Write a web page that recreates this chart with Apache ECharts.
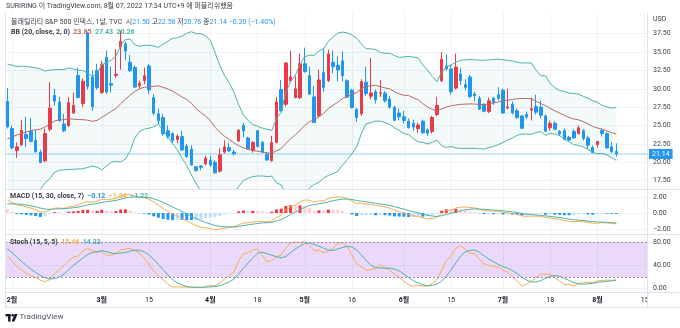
<!DOCTYPE html>
<html lang="ko">
<head>
<meta charset="utf-8">
<title>VIX 1D</title>
<script src="https://cdn.jsdelivr.net/npm/echarts@6/dist/echarts.min.js"></script>
<style>
html,body{margin:0;padding:0;background:#fff;}
#chart{width:680px;height:328px;}
</style>
</head>
<body>
<div id="chart"></div>
<script>
// ---------- sessions ----------
const holidays = ['2022-02-21', '2022-04-15', '2022-05-30', '2022-06-20', '2022-07-04'];
const firstSession = '2022-01-31';
const lastAxisDay = '2022-08-15';

// ---------- daily OHLC, 2022-01-31 .. 2022-08-05 ----------
const open = [
  28.3, 24.6, 21.6, 22.4, 23.8, 24.2, 23.0, 21.4, 20.2, 24.5,
  29.1, 28.2, 25.2, 25.0, 26.7, 31.8, 28.0, 37.5, 31.6, 32.5,
  29.5, 34.3, 30.7, 31.8, 35.7, 36.1, 33.6, 32.9, 30.4, 31.1,
  33.1, 28.8, 26.6, 26.1, 24.3, 23.9, 23.1, 23.5, 22.2, 21.8,
  19.4, 19.5, 19.8, 20.3, 20.0, 18.8, 21.4, 22.0, 21.4, 22.9,
  25.0, 23.3, 21.6, 24.3, 22.7, 21.1, 20.2, 22.7, 29.9, 27.9,
  31.1, 28.8, 28.8, 33.4, 31.8, 28.9, 26.3, 32.2, 31.1, 33.6,
  33.2, 33.8, 31.1, 29.8, 27.2, 26.6, 30.9, 29.0, 29.6, 29.4,
  29.4, 28.6, 27.5, 26.7, 26.2, 25.6, 25.3, 24.6, 25.6, 24.4,
  24.2, 26.5, 31.1, 33.1, 32.7, 30.1, 32.0, 30.6, 31.6, 29.3,
  28.7, 27.9, 26.9, 28.7, 29.2, 29.8, 27.4, 27.9, 27.0, 26.3,
  26.5, 27.1, 27.6, 27.5, 26.3, 24.7, 25.3, 24.2, 24.3, 23.4,
  24.2, 23.9, 24.3, 23.3, 22.0, 22.4, 24.3, 23.9, 22.1, 21.50
];
const high = [
  30.1, 25.0, 22.7, 25.8, 26.2, 26.0, 24.4, 21.7, 24.6, 30.9,
  30.0, 28.9, 26.6, 28.9, 29.5, 32.9, 31.4, 37.8, 32.5, 33.4,
  33.8, 35.2, 33.0, 35.4, 37.9, 36.4, 34.6, 33.2, 31.1, 32.9,
  33.4, 29.3, 27.3, 26.6, 25.0, 24.1, 23.8, 24.3, 22.5, 22.3,
  19.5, 19.6, 20.9, 20.9, 20.3, 21.9, 23.0, 22.6, 21.7, 24.5,
  25.4, 23.5, 22.9, 24.4, 22.9, 21.4, 23.6, 28.9, 31.2, 33.6,
  35.2, 31.7, 34.8, 35.6, 33.0, 30.4, 32.6, 35.5, 35.3, 35.2,
  34.4, 35.1, 31.3, 30.0, 27.4, 31.3, 33.0, 34.2, 29.9, 31.2,
  29.7, 29.0, 27.7, 27.3, 27.0, 26.0, 25.8, 25.4, 25.8, 24.6,
  26.3, 28.9, 35.0, 34.7, 33.3, 34.8, 32.8, 31.3, 31.9, 29.6,
  29.0, 28.0, 28.8, 28.9, 30.2, 30.0, 30.0, 28.3, 27.3, 26.4,
  26.9, 28.8, 29.2, 28.4, 26.5, 25.67, 25.6, 24.4, 24.6, 23.6,
  24.5, 25.0, 24.5, 23.6, 22.3, 22.9, 24.6, 24.1, 22.8, 22.58
];
const low = [
  24.6, 21.8, 20.6, 22.2, 22.1, 22.7, 21.3, 19.9, 20.0, 24.2,
  27.7, 25.5, 24.1, 24.8, 26.6, 28.7, 27.5, 29.9, 27.0, 29.9,
  29.3, 29.3, 29.5, 31.5, 32.6, 33.9, 32.3, 30.1, 30.0, 30.6,
  29.3, 26.4, 25.2, 23.6, 23.2, 22.6, 22.6, 21.6, 20.6, 19.6,
  18.7, 18.9, 19.6, 19.4, 18.5, 18.6, 21.2, 21.4, 20.9, 22.8,
  23.4, 21.7, 21.3, 22.0, 21.3, 20.2, 20.1, 22.6, 26.9, 27.6,
  30.9, 28.7, 28.6, 32.2, 29.2, 25.3, 26.1, 29.6, 30.9, 32.1,
  31.0, 31.0, 28.7, 27.3, 25.5, 26.3, 29.0, 28.6, 28.0, 28.9,
  28.1, 27.3, 25.6, 25.7, 25.3, 24.6, 24.3, 24.0, 23.9, 23.6,
  23.9, 26.3, 30.9, 32.5, 29.2, 29.9, 30.5, 29.8, 28.7, 28.3,
  27.1, 26.8, 26.7, 27.8, 28.4, 26.6, 27.2, 26.5, 25.9, 24.5,
  25.9, 25.7, 26.5, 26.0, 24.1, 24.3, 24.4, 23.6, 23.0, 22.8,
  23.2, 23.8, 23.0, 21.8, 21.2, 22.0, 23.5, 21.9, 21.3, 20.76
];
const close = [
  24.83, 21.96, 22.09, 24.35, 23.22, 22.86, 21.44, 19.96, 23.91, 27.36,
  28.33, 25.70, 24.29, 28.11, 27.75, 28.81, 31.02, 30.32, 27.59, 30.15,
  33.32, 29.57, 30.48, 31.98, 36.45, 35.13, 32.45, 30.23, 30.75, 31.77,
  29.83, 26.67, 25.67, 23.87, 23.53, 22.94, 23.57, 21.67, 20.81, 19.63,
  18.90, 19.33, 20.56, 19.63, 18.57, 21.03, 22.10, 21.55, 21.16, 24.37,
  24.26, 21.82, 22.70, 22.17, 21.37, 20.32, 22.68, 28.21, 27.02, 33.52,
  31.60, 29.99, 33.40, 32.34, 29.25, 25.42, 31.20, 30.19, 34.75, 32.99,
  32.56, 31.77, 28.87, 27.47, 26.10, 30.96, 29.35, 29.43, 28.48, 29.45,
  28.37, 27.50, 25.72, 26.19, 25.69, 24.72, 24.79, 25.07, 24.02, 23.96,
  26.09, 27.75, 34.02, 32.69, 29.62, 32.95, 31.13, 30.19, 28.95, 29.05,
  27.23, 26.95, 28.36, 28.16, 28.71, 26.70, 27.54, 26.73, 26.08, 24.64,
  26.17, 27.29, 26.82, 26.40, 24.23, 25.30, 24.50, 23.88, 23.11, 23.03,
  23.32, 24.69, 23.24, 22.33, 21.33, 22.84, 23.93, 21.95, 21.44, 21.14
];

// earlier sessions that feed the indicators (closes from 2021-12-01, highs/lows from 2021-12-27)
const priorClose = [
  31.12, 27.95, 30.67, 27.18, 21.89, 19.90, 21.58, 18.69, 20.31, 21.89,
  19.29, 20.57, 21.57, 22.87, 20.31, 18.63, 17.96, 17.68, 18.02, 16.95,
  17.33, 17.22, 16.60, 16.91, 19.73, 19.61, 18.76, 19.40, 18.41, 17.62,
  20.31, 19.19, 22.79, 23.85, 25.59, 28.85, 29.90, 31.16, 31.96, 30.49, 27.66
];
const priorHigh = [
  18.9, 18.6, 18.0, 17.9, 18.0, 18.5, 18.3, 20.2, 21.1, 20.8, 23.3, 20.0,
  18.4, 20.6, 21.5, 23.4, 24.6, 26.1, 30.0, 38.9, 33.6, 33.6, 33.1, 32.5
];
const priorLow = [
  17.6, 17.4, 16.8, 16.5, 16.9, 16.6, 16.2, 16.6, 19.1, 18.6, 18.7, 17.9,
  17.4, 17.1, 19.2, 20.8, 21.5, 22.1, 25.0, 28.9, 29.4, 26.7, 28.5, 27.5
];

// ---------- axis ticks ----------
const timeLabels = {
  '2022-02-01': '2월', '2022-03-01': '3월', '2022-03-15': '15', '2022-04-01': '4월',
  '2022-04-18': '18', '2022-05-02': '5월', '2022-05-16': '16', '2022-06-01': '6월',
  '2022-06-15': '15', '2022-07-01': '7월', '2022-07-18': '18', '2022-08-01': '8월',
  '2022-08-15': '15'
};
const priceTicks = [17.5, 20, 22.5, 25, 27.5, 30, 32.5, 35, 37.5];
const macdTicks = [-2, 0, 2];
const stochTicks = [0, 40, 80];

// ---------- helpers ----------
function sessions(from, to, skip) {
  const out = [];
  const end = Date.parse(to + 'T00:00:00Z');
  for (let t = Date.parse(from + 'T00:00:00Z'); t <= end; t += 86400000) {
    const d = new Date(t);
    const s = d.toISOString().slice(0, 10);
    const wd = d.getUTCDay();
    if (wd !== 0 && wd !== 6 && skip.indexOf(s) < 0) out.push(s);
  }
  return out;
}
const avg = a => a.reduce((s, v) => s + v, 0) / a.length;
function ema(src, n) {
  const k = 2 / (n + 1);
  const out = src.map(() => null);
  const start = src.findIndex(v => v != null);
  let prev = null;
  for (let i = start + n - 1; i < src.length; i++) {
    prev = (i === start + n - 1) ? avg(src.slice(start, start + n)) : k * src[i] + (1 - k) * prev;
    out[i] = prev;
  }
  return out;
}
const fmt = v => (v < 0 ? '\u2212' : '') + Math.abs(v).toFixed(2);

// ---------- indicators ----------
const dates = sessions(firstSession, lastAxisDay, holidays);
const N = close.length;
const P = priorClose.length;
const cAll = priorClose.concat(close);
const hAll = new Array(P - priorHigh.length).fill(null).concat(priorHigh, high);
const lAll = new Array(P - priorLow.length).fill(null).concat(priorLow, low);

// Bollinger Bands (20, 2)
const bbMid = [], bbUp = [], bbLo = [];
for (let i = 0; i < N; i++) {
  const w = cAll.slice(P + i - 19, P + i + 1);
  const m = avg(w);
  const sd = Math.sqrt(avg(w.map(v => (v - m) * (v - m))));
  bbMid.push(m); bbUp.push(m + 2 * sd); bbLo.push(m - 2 * sd);
}

// MACD (15, 30, 7)
const eFast = ema(cAll, 15), eSlow = ema(cAll, 30);
const macdAll = cAll.map((_, i) => (eFast[i] != null && eSlow[i] != null) ? eFast[i] - eSlow[i] : null);
const sigAll = ema(macdAll, 7);
const macd = macdAll.slice(P), signal = sigAll.slice(P);
const hist = macd.map((v, i) => v - signal[i]);
const histPrev = macdAll[P - 1] - sigAll[P - 1];
const histColor = hist.map((h, i) => {
  const p = i ? hist[i - 1] : histPrev;
  if (h >= 0) return h >= p ? '#F23645' : '#FFCDD2';
  return h <= p ? '#2196F3' : '#BBDEFB';
});

// Stochastic (15, 5, 5)
const raw = cAll.map((c, j) => {
  if (j < 14) return null;
  const hs = hAll.slice(j - 14, j + 1), ls = lAll.slice(j - 14, j + 1);
  if (hs.some(v => v == null) || ls.some(v => v == null)) return null;
  const hh = Math.max.apply(null, hs), ll = Math.min.apply(null, ls);
  return 100 * (c - ll) / (hh - ll);
});
const smooth5 = src => src.map((_, j) => {
  if (j < 4) return null;
  const w = src.slice(j - 4, j + 1);
  return w.some(v => v == null) ? null : avg(w);
});
const kAll = smooth5(raw), dAll = smooth5(kAll);
const stochK = kAll.slice(P), stochD = dAll.slice(P);

// ---------- styling ----------
const FONT = 'Roboto, "Noto Sans CJK KR", sans-serif';
const UP = '#F23645', DOWN = '#2196F3';
const ORANGE = '#F9AE4F', TEAL = '#4DB3A8', BASIS = '#B56C63';
const GRIDLINE = '#F0F2F7', BORDER = '#E0E3EB', TEXT = '#3d404a';

const L = N - 1;
const chg = close[L] - close[L - 1];

const gridDefs = [
  { top: 13, height: 176 },
  { top: 190, height: 44 },
  { top: 235, height: 57 }
];
const yRanges = [[16.37, 40.31], [-2.59, 2.84], [-5.9, 92.4]];
const yTicks = [priceTicks, macdTicks, stochTicks];

function gridLines(k) {
  return {
    type: 'line', xAxisIndex: k, yAxisIndex: k, data: [], silent: true, z: 0,
    markLine: {
      silent: true, symbol: ['none', 'none'], animation: false, z: 0,
      label: { show: false },
      lineStyle: { color: GRIDLINE, width: 1, type: 'solid' },
      data: Object.keys(timeLabels).map(d => ({ xAxis: d }))
        .concat(yTicks[k].map(v => ({ yAxis: v })))
    }
  };
}

const option = {
  animation: false,
  backgroundColor: '#fff',
  textStyle: { fontFamily: FONT },
  title: [
    { left: 6, top: 3, padding: 0,
      text: 'SURIRING 이 TradingView.com, 8월 07, 2022 17:34 UTC+9 에 퍼블리쉬했음',
      textStyle: { fontSize: 7, fontWeight: 'normal', color: TEXT, fontFamily: FONT } },
    { left: 11, top: 19, padding: 0,
      text: '{n|볼래틸리티 S&P 500 인덱스, 1날, TVC}  {n|시}{v|' + open[L].toFixed(2) + '} {n|고}{v|' + high[L].toFixed(2) +
        '} {n|저}{v|' + low[L].toFixed(2) + '} {n|종}{v|' + close[L].toFixed(2) + '} {v|' + fmt(chg) + ' (' + fmt(chg / close[L - 1] * 100) + '%)}',
      textStyle: { fontSize: 7, fontWeight: 'normal', color: TEXT, fontFamily: FONT,
        rich: { n: { color: TEXT, fontSize: 7, fontFamily: FONT }, v: { color: DOWN, fontSize: 7, fontFamily: FONT } } } },
    { left: 11, top: 29, padding: 0,
      text: '{n|BB (20, close, 2, 0)}  {b|' + bbMid[L].toFixed(2) + '}  {t|' + bbUp[L].toFixed(2) + '}  {t|' + bbLo[L].toFixed(2) + '}',
      textStyle: { fontSize: 7, fontFamily: FONT,
        rich: { n: { color: TEXT, fontSize: 7, fontFamily: FONT }, b: { color: BASIS, fontSize: 7, fontFamily: FONT }, t: { color: TEAL, fontSize: 7, fontFamily: FONT } } } },
    { left: 10, top: 192.5, padding: 0,
      text: '{n|MACD (15, 30, close, 7)}  {h|' + fmt(hist[L]) + '}  {o|' + fmt(macd[L]) + '}  {t|' + fmt(signal[L]) + '}',
      textStyle: { fontSize: 7, fontFamily: FONT,
        rich: { n: { color: TEXT, fontSize: 7, fontFamily: FONT }, h: { color: DOWN, fontSize: 7, fontFamily: FONT }, o: { color: ORANGE, fontSize: 7, fontFamily: FONT }, t: { color: TEAL, fontSize: 7, fontFamily: FONT } } } },
    { left: 10, top: 239, padding: 0,
      text: '{n|Stoch (15, 5, 5)}  {o|' + stochK[L].toFixed(2) + '}  {t|' + stochD[L].toFixed(2) + '}',
      textStyle: { fontSize: 7, fontFamily: FONT,
        rich: { n: { color: TEXT, fontSize: 7, fontFamily: FONT }, o: { color: ORANGE, fontSize: 7, fontFamily: FONT }, t: { color: TEAL, fontSize: 7, fontFamily: FONT } } } }
  ],
  grid: gridDefs.map(g => ({ left: 5, right: 33, top: g.top, height: g.height, show: false })),
  xAxis: [0, 1, 2].map(k => ({
    type: 'category', gridIndex: k, data: dates, boundaryGap: true,
    axisLine: { show: false }, axisTick: { show: false }, splitLine: { show: false },
    axisLabel: k < 2 ? { show: false } : {
      show: true, margin: 5, fontSize: 7, color: '#131722', fontFamily: FONT,
      interval: (i, v) => timeLabels[v] !== undefined,
      formatter: v => /월$/.test(timeLabels[v]) ? '{m|' + timeLabels[v] + '}' : '{d|' + timeLabels[v] + '}',
      rich: { m: { fontWeight: 'bold', fontSize: 7, color: '#131722', fontFamily: FONT }, d: { fontSize: 7, color: '#131722', fontFamily: FONT } }
    }
  })),
  yAxis: [0, 1, 2].map(k => ({
    type: 'value', gridIndex: k, position: 'right', min: yRanges[k][0], max: yRanges[k][1],
    axisLine: { show: false }, axisTick: { show: false }, splitLine: { show: false },
    axisLabel: {
      customValues: yTicks[k], margin: 6, fontSize: 7, color: TEXT, fontFamily: FONT,
      formatter: v => fmt(v)
    }
  })),
  graphic: [
    // price-scale column of the time-axis row stays blank, trimming the last date label
    { type: 'rect', z: 100, shape: { x: 648, y: 293, width: 32, height: 14 }, style: { fill: '#fff' } },
    { type: 'text', x: 653, y: 16, style: { text: 'USD', fontSize: 7, fontFamily: FONT, fill: TEXT } },
    { type: 'line', z: 101, shape: { x1: 5.5, y1: 13, x2: 5.5, y2: 307.5 }, style: { stroke: BORDER, lineWidth: 1 } },
    { type: 'line', z: 101, shape: { x1: 647.5, y1: 13, x2: 647.5, y2: 307.5 }, style: { stroke: BORDER, lineWidth: 1 } },
    { type: 'line', z: 101, shape: { x1: 5, y1: 189.5, x2: 680, y2: 189.5 }, style: { stroke: BORDER, lineWidth: 1 } },
    { type: 'line', z: 101, shape: { x1: 5, y1: 234.5, x2: 680, y2: 234.5 }, style: { stroke: BORDER, lineWidth: 1 } },
    { type: 'line', z: 101, shape: { x1: 5, y1: 292.5, x2: 680, y2: 292.5 }, style: { stroke: BORDER, lineWidth: 1 } },
    { type: 'line', z: 101, shape: { x1: 5, y1: 307.5, x2: 680, y2: 307.5 }, style: { stroke: BORDER, lineWidth: 1 } },
    { type: 'group', children: [
      { type: 'rect', shape: { x: 5.5, y: 314, width: 5, height: 2.4 }, style: { fill: '#131722' } },
      { type: 'rect', shape: { x: 8.1, y: 314, width: 2.4, height: 7.6 }, style: { fill: '#131722' } },
      { type: 'circle', shape: { cx: 12.6, cy: 315.3, r: 1.2 }, style: { fill: '#131722' } },
      { type: 'polygon', shape: { points: [[14.6, 314], [17.6, 314], [14.4, 321.6], [11.6, 321.6]] }, style: { fill: '#131722' } }
    ] },
    { type: 'text', x: 19.5, y: 313, style: { text: 'TradingView', fontSize: 8, fontFamily: FONT, fill: '#50535E' } }
  ],
  series: [
    gridLines(0), gridLines(1), gridLines(2),
    // Bollinger band fill
    { type: 'line', xAxisIndex: 0, yAxisIndex: 0, data: bbLo, stack: 'bb', symbol: 'none', silent: true,
      lineStyle: { opacity: 0 } },
    { type: 'line', xAxisIndex: 0, yAxisIndex: 0, data: bbUp.map((v, i) => v - bbLo[i]), stack: 'bb', symbol: 'none', silent: true,
      lineStyle: { opacity: 0 }, areaStyle: { color: 'rgba(38,166,154,0.07)' } },
    { type: 'line', xAxisIndex: 0, yAxisIndex: 0, data: bbUp, symbol: 'none', lineStyle: { color: TEAL, width: 1 } },
    { type: 'line', xAxisIndex: 0, yAxisIndex: 0, data: bbLo, symbol: 'none', lineStyle: { color: TEAL, width: 1 } },
    { type: 'line', xAxisIndex: 0, yAxisIndex: 0, data: bbMid, symbol: 'none', lineStyle: { color: BASIS, width: 1 } },
    // candles
    { type: 'candlestick', xAxisIndex: 0, yAxisIndex: 0, barWidth: 3,
      data: close.map((c, i) => [open[i], c, low[i], high[i]]),
      itemStyle: { color: UP, color0: DOWN, borderColor: UP, borderColor0: DOWN, borderWidth: 1 },
      markLine: {
        silent: true, symbol: ['none', 'none'], animation: false,
        lineStyle: { color: 'rgba(33,150,243,0.3)', width: 1.5, type: 'solid' },
        label: { show: true, position: 'end', distance: 2, formatter: close[L].toFixed(2),
          backgroundColor: DOWN, color: '#fff', fontSize: 7, fontFamily: FONT, padding: [2, 3, 1, 3] },
        data: [{ yAxis: close[L] }]
      } },
    // MACD
    { type: 'bar', xAxisIndex: 1, yAxisIndex: 1, barWidth: 3,
      data: hist.map((h, i) => ({ value: h, itemStyle: { color: histColor[i] } })) },
    { type: 'line', xAxisIndex: 1, yAxisIndex: 1, data: macd, symbol: 'none', lineStyle: { color: ORANGE, width: 1 } },
    { type: 'line', xAxisIndex: 1, yAxisIndex: 1, data: signal, symbol: 'none', lineStyle: { color: TEAL, width: 1 } },
    // Stochastic
    { type: 'line', xAxisIndex: 2, yAxisIndex: 2, data: stochK, symbol: 'none', lineStyle: { color: ORANGE, width: 1 },
      markArea: { silent: true, itemStyle: { color: 'rgba(178,120,240,0.28)' }, data: [[{ yAxis: 20 }, { yAxis: 80 }]] },
      markLine: { silent: true, symbol: ['none', 'none'], animation: false, label: { show: false },
        lineStyle: { color: '#9A86AD', width: 1, type: [2, 2] }, data: [{ yAxis: 20 }, { yAxis: 80 }] } },
    { type: 'line', xAxisIndex: 2, yAxisIndex: 2, data: stochD, symbol: 'none', lineStyle: { color: TEAL, width: 1 } }
  ]
};

const chart = echarts.init(document.getElementById('chart'), null, { renderer: 'canvas' });
chart.setOption(option);
</script>
</body>
</html>
